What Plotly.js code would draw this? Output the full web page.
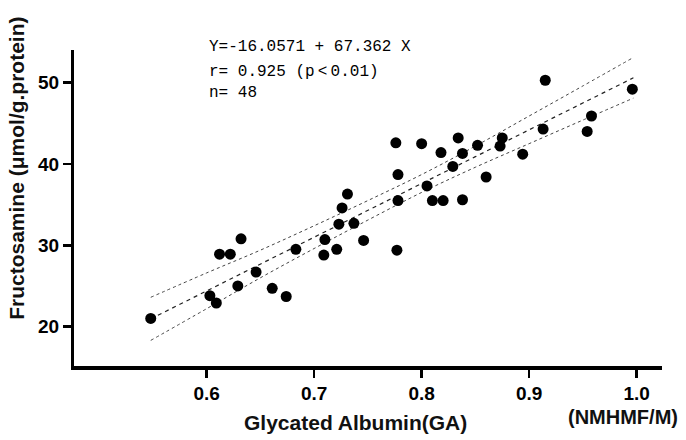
<!DOCTYPE html>
<html>
<head>
<meta charset="utf-8">
<script src="https://cdn.plot.ly/plotly-3.0.1.min.js"></script>
<style>html,body{margin:0;padding:0;background:#fff;}#chart{width:686px;height:440px;}</style>
</head>
<body>
<div id="chart"></div>
<script>
// Scatter points: Glycated Albumin (x) vs Fructosamine (y)
const gaValues = [0.548,0.603,0.609,0.612,0.622,0.632,0.629,0.646,0.661,0.674,
  0.683,0.710,0.709,0.721,0.723,0.726,0.731,0.737,0.746,0.776,
  0.778,0.778,0.777,0.800,0.805,0.810,0.820,0.818,0.829,0.834,
  0.838,0.838,0.852,0.860,0.873,0.875,0.894,0.913,0.915,0.954,
  0.958,0.996];
const fructosamineValues = [21.0,23.8,22.9,28.9,28.9,30.8,25.0,26.7,24.7,23.7,
  29.5,30.7,28.8,29.5,32.6,34.6,36.3,32.7,30.6,42.6,
  38.7,35.5,29.4,42.5,37.3,35.5,35.5,41.4,39.7,43.2,
  41.3,35.6,42.3,38.4,42.2,43.2,41.2,44.3,50.3,44.0,
  45.9,49.2];
// Regression line and confidence band
const lineX = [0.548,0.6,0.65,0.7,0.75,0.8,0.85,0.9,0.95,0.997];
const lineCenter = [20.95,24.4,27.7,31.0,34.3,37.6,40.9,44.2,47.5,50.6];
const bandUpper = [23.6,26.6,29.4,32.4,35.5,38.7,42.2,45.9,49.6,53.1];
const bandLower = [18.3,22.2,26.0,29.6,33.1,36.5,39.6,42.5,45.4,48.1];
const xTicks = [0.6,0.7,0.8,0.9,1.0];
const xTickLabels = ['0.6','0.7','0.8','0.9','1.0'];
const yTicks = [20,30,40,50];
const statLines = ['Y=-16.0571 + 67.362 X','r= 0.925 (p\u2009<\u20090.01)','n= 48'];

const tickFont = {family:'Liberation Sans, Arial, sans-serif', size:19, color:'#000', weight:'bold'};
const titleFont = {family:'Liberation Sans, Arial, sans-serif', size:21, color:'#111', weight:'bold'};
const unitFont = {family:'Liberation Sans, Arial, sans-serif', size:20, color:'#111', weight:'bold'};
const monoFont = {family:'Liberation Mono, Courier New, monospace', size:16, color:'#000'};

const traces = [
  {x: lineX, y: bandUpper, mode:'lines', line:{color:'#444', width:1, dash:'dot', shape:'spline'}, hoverinfo:'skip'},
  {x: lineX, y: bandLower, mode:'lines', line:{color:'#444', width:1, dash:'dot', shape:'spline'}, hoverinfo:'skip'},
  {x: lineX, y: lineCenter, mode:'lines', line:{color:'#222', width:1.2, dash:'4px,4px'}, hoverinfo:'skip'},
  {x: gaValues, y: fructosamineValues, mode:'markers', marker:{color:'#000', size:11}}
];

const statY = [1.008, 0.931, 0.863];
const annotations = statLines.map((t,i)=>({
  text:t, xref:'paper', yref:'paper', x:0.2257, y:statY[i], xanchor:'left', yanchor:'middle',
  showarrow:false, font:monoFont
}));
annotations.push({text:'Glycated Albumin(GA)', xref:'paper', yref:'paper', x:0.478, y:-0.18,
  xanchor:'center', yanchor:'middle', showarrow:false, font:titleFont});
annotations.push({text:'(NMHMF/M)', xref:'paper', yref:'paper', x:1.031, y:-0.16,
  xanchor:'right', yanchor:'middle', showarrow:false, font:unitFont});
annotations.push({text:'Fructosamine (\u03bcmol/g.protein)', xref:'paper', yref:'paper', x:-0.097, y:0.627,
  xanchor:'center', yanchor:'middle', textangle:-90, showarrow:false, font:titleFont});

const layout = {
  width:686, height:440,
  margin:{l:74, r:24, t:50, b:74},
  paper_bgcolor:'#fff', plot_bgcolor:'#fff',
  showlegend:false,
  xaxis:{range:[0.4766,1.0236], tickvals:xTicks, ticktext:xTickLabels, ticks:'outside', ticklen:8, tickwidth:2.5,
    tickcolor:'#000', showline:true, linecolor:'#000', linewidth:3.5, showgrid:false, zeroline:false,
    tickfont:tickFont, fixedrange:true},
  yaxis:{range:[15.15,54.02], tickvals:yTicks, ticks:'outside', ticklen:8, tickwidth:2.5,
    tickcolor:'#000', showline:true, linecolor:'#000', linewidth:3, showgrid:false, zeroline:false,
    tickfont:tickFont, fixedrange:true},
  annotations: annotations
};
Plotly.newPlot('chart', traces, layout, {displayModeBar:false, staticPlot:true});
</script>
</body>
</html>
